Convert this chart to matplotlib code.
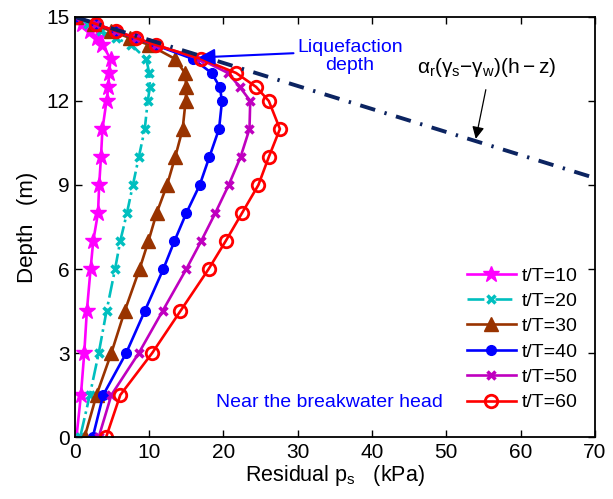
import numpy as np
import matplotlib
matplotlib.use("Agg")
from matplotlib import pyplot as plt

plt.rcParams["font.family"] = ["Liberation Sans", "DejaVu Sans"]
plt.rcParams["mathtext.fontset"] = "custom"
plt.rcParams["mathtext.rm"] = "Liberation Sans"
plt.rcParams["mathtext.it"] = "Liberation Sans"

# depth of the output points (m)
depth = [15, 14.75, 14.5, 14.25, 14, 13.5, 13, 12.5, 12, 11, 10, 9, 8, 7, 6, 4.5, 3, 1.5, 0]

# residual pore pressure (kPa) for each t/T
ps_10 = [0.3, 1.0, 2.0, 3.0, 3.7, 4.8, 4.6, 4.5, 4.25, 3.7, 3.5, 3.26, 3.1, 2.46, 2.1, 1.6, 1.25, 0.8, 0.2]
ps_20 = [0.3, 1.8, 3.5, 5.5, 7.6, 9.6, 10.0, 10.1, 9.8, 9.4, 8.6, 7.8, 7.0, 6.1, 5.4, 4.25, 3.2, 2.0, 0.7]
ps_30 = [0.2, 2.5, 4.8, 7.4, 10.0, 13.5, 14.8, 15.0, 14.9, 14.5, 13.5, 12.4, 11.0, 9.9, 8.7, 6.7, 4.9, 2.9, 1.3]
ps_40 = [0.2, 2.8, 5.4, 8.1, 10.8, 15.9, 18.4, 19.5, 19.8, 19.4, 18.1, 16.8, 15.0, 13.4, 11.9, 9.4, 6.9, 3.8, 2.4]
ps_50 = [0.2, 2.8, 5.5, 8.2, 10.9, 16.8, 20.6, 22.2, 23.6, 23.5, 22.3, 20.7, 18.9, 17.0, 15.0, 11.8, 8.6, 4.9, 3.2]
ps_60 = [0.2, 2.8, 5.5, 8.2, 10.9, 17.0, 21.7, 24.4, 26.1, 27.6, 26.1, 24.7, 22.5, 20.3, 18.0, 14.2, 10.4, 6.1, 4.2]
labels = ["t/T=10", "t/T=20", "t/T=30", "t/T=40", "t/T=50", "t/T=60"]

# liquefaction criterion line alpha_r(gs-gw)(h-z)
liq_p = [0, 70]
liq_z = [15, 9.25]

fig = plt.figure(figsize=(6.13, 4.99), dpi=100)
ax = fig.add_axes([0.1223, 0.1242, 0.848, 0.8418])

lw = 1.9
ax.plot(ps_10, depth, "-", color="#ff00ff", lw=lw, marker="*", ms=12, label=labels[0])
ax.plot(ps_20, depth, "-.", color="#00bfbf", lw=lw, marker="x", ms=6, mew=2.5, label=labels[1])
ax.plot(ps_30, depth, "-", color="#993300", lw=lw, marker="^", ms=10, mfc="#993300", label=labels[2])
ax.plot(ps_40, depth, "-", color="#0000ff", lw=lw, marker="o", ms=7, label=labels[3])
ax.plot(ps_50, depth, "-", color="#bf00bf", lw=lw, marker="x", ms=6, mew=2.5, label=labels[4])
ax.plot(ps_60, depth, "-", color="#ff0000", lw=lw, marker="o", ms=9, mfc="none", mew=2, label=labels[5])
ax.plot(liq_p, liq_z, color="#0c2461", lw=2.8, dashes=(4, 2.5, 0.6, 2.5))

ax.set_xlim(0, 70)
ax.set_ylim(0, 15)
ax.set_xticks(np.arange(0, 71, 10))
ax.set_yticks(np.arange(0, 16, 3))
ax.tick_params(direction="in", top=True, right=True, labelsize=15, length=5, width=1, pad=4)
for s in ax.spines.values():
    s.set_linewidth(1.3)

ax.set_xlabel(r"Residual p$_{\mathrm{s}}$   (kPa)", fontsize=15.5, labelpad=1)
ax.set_ylabel("Depth   (m)", fontsize=16, labelpad=6)

ax.annotate("", xy=(16.3, 13.55), xytext=(29.8, 13.71),
            arrowprops=dict(arrowstyle="-|>", color="#0000ff", lw=1.5, mutation_scale=24))
ax.text(37.0, 13.58, "Liquefaction\ndepth", color="#0000ff", fontsize=14,
        ha="center", va="center", linespacing=1.05)

ax.annotate("", xy=(53.9, 10.55), xytext=(55.4, 12.5),
            arrowprops=dict(arrowstyle="-|>", color="black", lw=0.9, mutation_scale=18))
ax.text(55.4, 13.2, r"$\alpha_{\mathrm{r}}(\gamma_{\mathrm{s}}\mathrm{-}\gamma_{\mathrm{w}})(\mathrm{h-z})$",
        fontsize=15, ha="center", va="center")

ax.text(19.0, 1.24, "Near the breakwater head", color="#0000ff", fontsize=14, ha="left", va="center")

leg = ax.legend(loc="upper left", bbox_to_anchor=(0.754, 0.405), frameon=False, fontsize=14,
                handlelength=2.5, handletextpad=0.3, labelspacing=0.4, borderaxespad=0, borderpad=0)

fig.savefig("out.png", dpi=100)
